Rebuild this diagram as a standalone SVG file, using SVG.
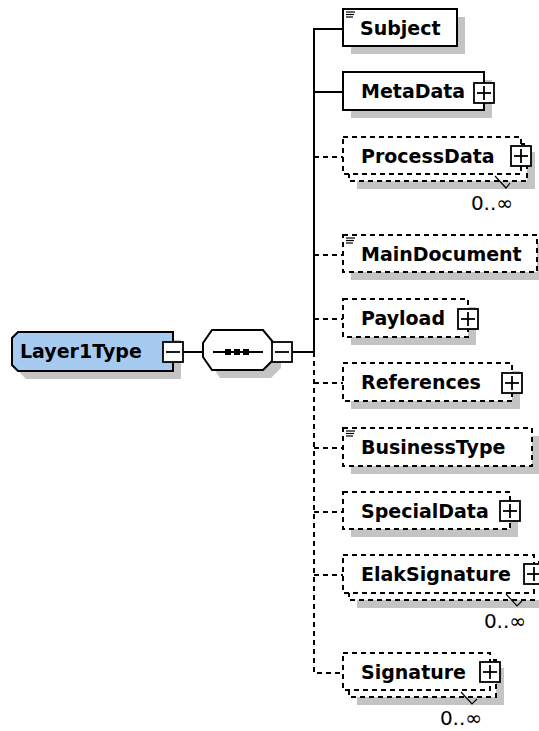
<svg xmlns="http://www.w3.org/2000/svg" width="539" height="731" viewBox="0 0 539 731">
<style>
.bg{fill:#ffffff}
.sh{fill:#c4c4c4}
.box{fill:#ffffff;stroke:#000;stroke-width:2}
.dbox{fill:#ffffff;stroke:#000;stroke-width:2;stroke-dasharray:5 4}
.ln{fill:none;stroke:#000;stroke-width:2}
.dln{fill:none;stroke:#000;stroke-width:2;stroke-dasharray:5 4}
.lbl{font-family:"DejaVu Sans",Verdana,sans-serif;font-weight:bold;font-size:19px;fill:#000}
.occ{font-family:"DejaVu Sans",Verdana,sans-serif;font-size:20px;fill:#000}
.ic{stroke:#000;stroke-width:1.2}
.tk{fill:none;stroke:#000;stroke-width:1.2}
.pm{fill:#ffffff;stroke:#000;stroke-width:1.8}
.pl{stroke:#000;stroke-width:1.8}
</style>
<rect class="bg" x="0" y="0" width="539" height="731"/>

<g id="connectors">
  <path class="ln" d="M183,352 H203"/>
  <path class="ln" d="M292,352 H314"/>
  <path class="ln" d="M343,29 H314 V352"/>
  <path class="ln" d="M314,92 H343"/>
  <path class="dln" d="M314,352 V673 H343"/>
  <path class="dln" d="M314,157 H343"/>
  <path class="dln" d="M314,255 H343"/>
  <path class="dln" d="M314,319 H343"/>
  <path class="dln" d="M314,383 H343"/>
  <path class="dln" d="M314,448 H343"/>
  <path class="dln" d="M314,512 H343"/>
  <path class="dln" d="M314,575 H343"/>
</g>

<g id="Layer1Type">
  <polygon class="sh" points="26,340 181,340 181,379 26,379 20,373 20,346"/>
  <polygon points="18,332 173,332 173,371 18,371 12,365 12,338" fill="#a6caf0" stroke="#000" stroke-width="2"/>
  <text class="lbl" x="20" y="358">Layer1Type</text>
  <rect class="pm" x="163" y="342" width="20" height="20"/>
  <line class="pl" x1="166" y1="352" x2="180" y2="352"/>
</g>

<g id="sequence">
  <polygon class="sh" points="220,338 271,338 281,350 281,368 271,378 220,378 211,365 211,351"/>
  <polygon points="212,330 263,330 273,342 273,360 263,370 212,370 203,357 203,343" fill="#fff" stroke="#000" stroke-width="2"/>
  <line class="ln" x1="213" y1="352" x2="263" y2="352"/>
  <rect x="225" y="349" width="6" height="6" fill="#000"/>
  <rect x="234" y="349" width="6" height="6" fill="#000"/>
  <rect x="243" y="349" width="6" height="6" fill="#000"/>
  <rect class="pm" x="272" y="342" width="20" height="20"/>
  <line class="pl" x1="275" y1="352" x2="289" y2="352"/>
</g>

<g id="Subject">
  <rect class="sh" x="351" y="17" width="114" height="37"/>
  <rect class="box" x="343" y="9" width="114" height="37"/>
  <line class="ic" x1="346" y1="12" x2="355" y2="12"/>
  <line class="ic" x1="346" y1="14.5" x2="354" y2="14.5"/>
  <line class="ic" x1="346" y1="17" x2="353" y2="17"/>
  <text class="lbl" x="360" y="35">Subject</text>
</g>

<g id="MetaData">
  <rect class="sh" x="351" y="80" width="141" height="38"/>
  <rect class="box" x="343" y="72" width="141" height="38"/>
  <text class="lbl" x="361" y="98">MetaData</text>
  <rect class="pm" x="474" y="83" width="20" height="20"/>
  <line class="pl" x1="477" y1="93" x2="491" y2="93"/>
  <line class="pl" x1="484" y1="86" x2="484" y2="100"/>
</g>

<g id="ProcessData">
  <rect class="sh" x="357" y="152" width="178" height="37"/>
  <rect class="dbox" x="349" y="144" width="178" height="37"/>
  <rect class="dbox" x="343" y="137" width="178" height="37"/>
  <text class="lbl" x="361" y="163">ProcessData</text>
  <rect class="pm" x="511" y="146" width="20" height="20"/>
  <line class="pl" x1="514" y1="156" x2="528" y2="156"/>
  <line class="pl" x1="521" y1="149" x2="521" y2="163"/>
  <polyline class="tk" points="495,176 506,188 510,183"/>
  <text class="occ" x="513" y="210" text-anchor="end">0..∞</text>
</g>

<g id="MainDocument">
  <rect class="sh" x="351" y="243" width="194" height="37"/>
  <rect class="dbox" x="343" y="235" width="194" height="37"/>
  <line class="ic" x1="346" y1="238" x2="355" y2="238"/>
  <line class="ic" x1="346" y1="240.5" x2="354" y2="240.5"/>
  <line class="ic" x1="346" y1="243" x2="353" y2="243"/>
  <text class="lbl" x="361" y="261">MainDocument</text>
</g>

<g id="Payload">
  <rect class="sh" x="351" y="307" width="125" height="38"/>
  <rect class="dbox" x="343" y="299" width="125" height="38"/>
  <text class="lbl" x="361" y="325">Payload</text>
  <rect class="pm" x="458" y="309" width="20" height="20"/>
  <line class="pl" x1="461" y1="319" x2="475" y2="319"/>
  <line class="pl" x1="468" y1="312" x2="468" y2="326"/>
</g>

<g id="References">
  <rect class="sh" x="351" y="371" width="169" height="38"/>
  <rect class="dbox" x="343" y="363" width="169" height="38"/>
  <text class="lbl" x="361" y="389">References</text>
  <rect class="pm" x="502" y="373" width="20" height="20"/>
  <line class="pl" x1="505" y1="383" x2="519" y2="383"/>
  <line class="pl" x1="512" y1="376" x2="512" y2="390"/>
</g>

<g id="BusinessType">
  <rect class="sh" x="351" y="436" width="189" height="38"/>
  <rect class="dbox" x="343" y="428" width="189" height="38"/>
  <line class="ic" x1="346" y1="431" x2="355" y2="431"/>
  <line class="ic" x1="346" y1="433.5" x2="354" y2="433.5"/>
  <line class="ic" x1="346" y1="436" x2="353" y2="436"/>
  <text class="lbl" x="361" y="454">BusinessType</text>
</g>

<g id="SpecialData">
  <rect class="sh" x="351" y="500" width="167" height="37"/>
  <rect class="dbox" x="343" y="492" width="167" height="37"/>
  <text class="lbl" x="361" y="518">SpecialData</text>
  <rect class="pm" x="500" y="501" width="20" height="20"/>
  <line class="pl" x1="503" y1="511" x2="517" y2="511"/>
  <line class="pl" x1="510" y1="504" x2="510" y2="518"/>
</g>

<g id="ElakSignature">
  <rect class="sh" x="357" y="570" width="191" height="38"/>
  <rect class="dbox" x="349" y="562" width="191" height="38"/>
  <rect class="dbox" x="343" y="555" width="191" height="38"/>
  <text class="lbl" x="361" y="581">ElakSignature</text>
  <rect class="pm" x="524" y="564" width="20" height="20"/>
  <line class="pl" x1="527" y1="574" x2="541" y2="574"/>
  <line class="pl" x1="534" y1="567" x2="534" y2="581"/>
  <polyline class="tk" points="506,594 517,606 522,601"/>
  <text class="occ" x="526" y="628" text-anchor="end">0..∞</text>
</g>

<g id="Signature">
  <rect class="sh" x="357" y="668" width="147" height="37"/>
  <rect class="dbox" x="349" y="660" width="147" height="37"/>
  <rect class="dbox" x="343" y="653" width="147" height="37"/>
  <text class="lbl" x="361" y="679">Signature</text>
  <rect class="pm" x="480" y="662" width="20" height="20"/>
  <line class="pl" x1="483" y1="672" x2="497" y2="672"/>
  <line class="pl" x1="490" y1="665" x2="490" y2="679"/>
  <polyline class="tk" points="461,692 472,704 477,699"/>
  <text class="occ" x="482" y="725" text-anchor="end">0..∞</text>
</g>
</svg>
